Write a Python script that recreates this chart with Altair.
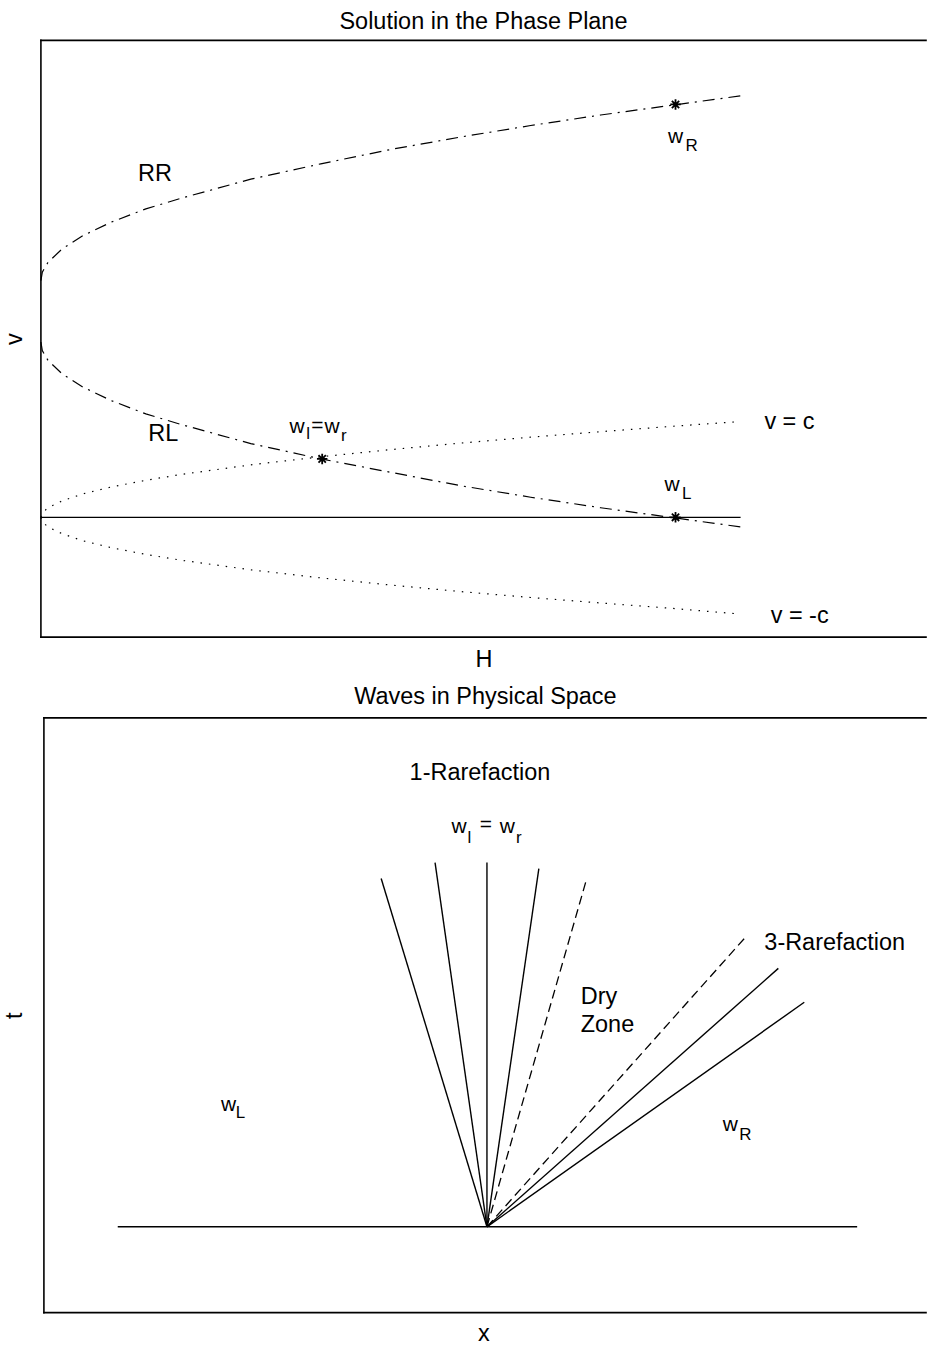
import altair as alt
import pandas as pd

FONT = "Liberation Sans"
FS = 23.5

# ---------------- top panel: solution in the phase plane ----------------
H = [0, 0.002, 0.01, 0.03, 0.06, 0.1, 0.15, 0.2, 0.3, 0.4, 0.5, 0.6, 0.7, 0.8, 0.9, 1.0]
v_RR = [2.47, 2.56, 2.66, 2.80, 2.94, 3.08, 3.22, 3.33, 3.53, 3.69, 3.84, 3.97, 4.09, 4.20, 4.30, 4.40]
v_RL = [1.83, 1.74, 1.64, 1.50, 1.36, 1.22, 1.08, 0.97, 0.77, 0.61, 0.47, 0.33, 0.21, 0.10, 0.00, -0.10]
v_plus_c = [0, 0.045, 0.10, 0.17, 0.245, 0.316, 0.387, 0.447, 0.548, 0.632, 0.707, 0.775, 0.837, 0.894, 0.949, 1.0]
v_minus_c = [0, -0.045, -0.10, -0.17, -0.245, -0.316, -0.387, -0.447, -0.548, -0.632, -0.707, -0.775, -0.837, -0.894, -0.949, -1.01]
zero_H = [0, 1.0]
zero_v = [0, 0]
star_H = [0.907, 0.402, 0.907]
star_v = [4.31, 0.61, 0.0]

top_lab_text = ["RR", "RL", "w", "R", "w", "l", "=", "w", "r", "w", "L"]
top_lab_H = [0.163, 0.175, 0.907, 0.930, 0.366, 0.382, 0.395, 0.416, 0.433, 0.902, 0.923]
top_lab_v = [3.58, 0.865, 3.97, 3.875, 0.948, 0.865, 0.958, 0.948, 0.844, 0.333, 0.24]
top_lab_size = [23.5, 23.5, 21, 17, 21, 17, 21, 21, 17, 21, 17]
top_left_text = ["v = c", "v = -c"]
top_left_H = [1.034, 1.043]
top_left_v = [0.99, -1.03]

# ---------------- bottom panel: waves in physical space ----------------
fan_x = [-1.06, -0.52, 0.0, 0.52, 1.00, 2.58, 2.92, 3.18]
fan_t = [3.49, 3.65, 3.65, 3.59, 3.49, 2.89, 2.59, 2.25]
fan_dashed = [False, False, False, False, True, True, False, False]
base_x = [-3.70, 3.71]
base_t = [0, 0]

bot_lab_text = ["1-Rarefaction", "w", "l", "=", "w", "r", "w", "L", "w", "R"]
bot_lab_x = [-0.07, -0.28, -0.175, -0.01, 0.205, 0.32, -2.59, -2.47, 2.44, 2.59]
bot_lab_t = [4.55, 4.01, 3.90, 4.03, 4.01, 3.90, 1.22, 1.14, 1.02, 0.92]
bot_lab_size = [23.5, 21, 17, 21, 21, 17, 21, 17, 21, 17]
bot_left_text = ["3-Rarefaction", "Dry", "Zone"]
bot_left_x = [2.78, 0.94, 0.94]
bot_left_t = [2.84, 2.30, 2.02]

TW, TH = 887, 598
BW, BH = 887, 596

STAR = "M-1,0L1,0M0,-1L0,1M-0.7,-0.7L0.7,0.7M-0.7,0.7L0.7,-0.7"


def frame(x0, w, h):
    d = alt.Data(values=[{}])
    s = dict(color="black", strokeWidth=1.6, strokeCap="square")
    left = alt.Chart(d).mark_rule(**s).encode(x=alt.value(x0), y=alt.value(0), y2=alt.value(h))
    top = alt.Chart(d).mark_rule(**s).encode(y=alt.value(0), x=alt.value(x0), x2=alt.value(w))
    bot = alt.Chart(d).mark_rule(**s).encode(y=alt.value(h), x=alt.value(x0), x2=alt.value(w))
    return [left, top, bot]


ax_common = dict(labels=False, ticks=False, domain=False, grid=False,
                 titleFont=FONT, titleFontSize=FS, titleFontWeight="normal", titleColor="black")

# top scales / axes
xs_t = alt.Scale(domain=[0, 1.265], nice=False, zero=False)
ys_t = alt.Scale(domain=[-1.25, 4.979], nice=False, zero=False)
xT = lambda f: alt.X(f, scale=xs_t, axis=alt.Axis(title="H", titlePadding=10, **ax_common))
yT = lambda f: alt.Y(f, scale=ys_t, axis=alt.Axis(title="v", titlePadding=14, **ax_common))

df_rr = pd.DataFrame({"H": H, "v": v_RR})
df_rl = pd.DataFrame({"H": H, "v": v_RL})
df_c = pd.DataFrame({"H": H * 2, "v": v_plus_c + v_minus_c,
                     "curve": ["+c"] * len(H) + ["-c"] * len(H)})
df_zero = pd.DataFrame({"H": zero_H, "v": zero_v})
df_star = pd.DataFrame({"H": star_H, "v": star_v})
df_tlab = pd.DataFrame({"H": top_lab_H, "v": top_lab_v, "text": top_lab_text, "size": top_lab_size})
df_tleft = pd.DataFrame({"H": top_left_H, "v": top_left_v, "text": top_left_text})

dashdot = alt.Chart(pd.concat([df_rr.assign(curve="RR"), df_rl.assign(curve="RL")])).mark_line(
    color="black", strokeWidth=1.2, strokeDash=[12, 6, 2, 6]
).encode(x=xT("H:Q"), y=yT("v:Q"), detail="curve:N", order="H:Q")

dotted = alt.Chart(df_c).mark_line(color="black", strokeWidth=1.2, strokeDash=[1.5, 7]).encode(
    x=xT("H:Q"), y=yT("v:Q"), detail="curve:N", order="H:Q")

zero_line = alt.Chart(df_zero).mark_line(color="black", strokeWidth=1.4).encode(x=xT("H:Q"), y=yT("v:Q"))

stars = alt.Chart(df_star).mark_point(shape=STAR, size=110, filled=False, color="black",
                                      strokeWidth=1.8, opacity=1).encode(x=xT("H:Q"), y=yT("v:Q"))

tlab = alt.Chart(df_tlab).mark_text(font=FONT, color="black", baseline="middle", align="center").encode(
    x=xT("H:Q"), y=yT("v:Q"), text="text:N", size=alt.Size("size:Q", scale=None))
tleft = alt.Chart(df_tleft).mark_text(font=FONT, fontSize=FS, color="black", baseline="middle", align="left").encode(
    x=xT("H:Q"), y=yT("v:Q"), text="text:N")

top = alt.layer(*frame(0, TW, TH), dashdot, dotted, zero_line, stars, tlab, tleft).properties(
    width=TW, height=TH,
    title=alt.TitleParams("Solution in the Phase Plane", font=FONT, fontSize=FS, fontWeight="normal",
                          color="black", offset=6, anchor="middle"))

# bottom scales / axes
xs_b = alt.Scale(domain=[-4.47, 4.40], nice=False, zero=False)
ys_b = alt.Scale(domain=[-0.86, 5.10], nice=False, zero=False)
xB = lambda f: alt.X(f, scale=xs_b, axis=alt.Axis(title="x", titlePadding=9, **ax_common))
yB = lambda f: alt.Y(f, scale=ys_b, axis=alt.Axis(title="t", titlePadding=14, **ax_common))

rows = []
for i, (fx, ft, dsh) in enumerate(zip(fan_x, fan_t, fan_dashed)):
    rows.append({"id": i, "k": 0, "x": 0.0, "t": 0.0, "dashed": dsh})
    rows.append({"id": i, "k": 1, "x": fx, "t": ft, "dashed": dsh})
df_fan = pd.DataFrame(rows)
df_base = pd.DataFrame({"x": base_x, "t": base_t})
df_blab = pd.DataFrame({"x": bot_lab_x, "t": bot_lab_t, "text": bot_lab_text, "size": bot_lab_size})
df_bleft = pd.DataFrame({"x": bot_left_x, "t": bot_left_t, "text": bot_left_text})

fan_solid = alt.Chart(df_fan[~df_fan.dashed]).mark_line(color="black", strokeWidth=1.4).encode(
    x=xB("x:Q"), y=yB("t:Q"), detail="id:N", order="k:Q")
fan_dash = alt.Chart(df_fan[df_fan.dashed]).mark_line(color="black", strokeWidth=1.3, strokeDash=[9, 5]).encode(
    x=xB("x:Q"), y=yB("t:Q"), detail="id:N", order="k:Q")
base = alt.Chart(df_base).mark_line(color="black", strokeWidth=1.4).encode(x=xB("x:Q"), y=yB("t:Q"))
blab = alt.Chart(df_blab).mark_text(font=FONT, color="black", baseline="middle", align="center").encode(
    x=xB("x:Q"), y=yB("t:Q"), text="text:N", size=alt.Size("size:Q", scale=None))
bleft = alt.Chart(df_bleft).mark_text(font=FONT, fontSize=FS, color="black", baseline="middle", align="left").encode(
    x=xB("x:Q"), y=yB("t:Q"), text="text:N")

bottom = alt.layer(*frame(3, BW, BH), fan_solid, fan_dash, base, blab, bleft).properties(
    width=BW, height=BH,
    title=alt.TitleParams("Waves in Physical Space", font=FONT, fontSize=FS, fontWeight="normal",
                          color="black", offset=8, anchor="middle", dx=2))

chart = alt.vconcat(top, bottom, spacing=14).properties(
    padding={"left": 3, "top": 8, "right": 0, "bottom": 0}
).configure_view(stroke=None).resolve_scale(x="independent", y="independent")

chart.save("out.html", embed_options={"renderer": "svg", "actions": False})
